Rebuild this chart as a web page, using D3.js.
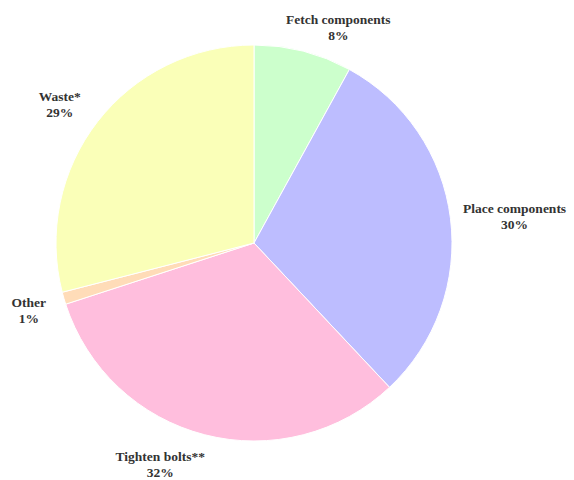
<!DOCTYPE html>
<html>
<head>
<meta charset="utf-8">
<script src="https://cdn.jsdelivr.net/npm/d3@7"></script>
<style>
  html, body { margin: 0; padding: 0; background: #fff; }
  svg { display: block; }
  text.label { font-family: "Liberation Serif", "Times New Roman", "DejaVu Serif", serif; font-weight: bold; }
</style>
</head>
<body>
<svg id="chart" width="574" height="480"></svg>
<script>
const categories = ['Fetch components', 'Place components', 'Tighten bolts**', 'Other', 'Waste*'];
const shares = [8, 30, 32, 1, 29];
const colors = ['#ccffcc', '#bdbdff', '#ffbedd', '#ffdcb8', '#faffb8'];
// label placement: angle shift (deg) from slice middle and distance from centre
const labelShift = [6.9, 1.2, 8.6, -0.4, -2.2];
const labelDist = [232, 262, 240, 235, 239];

const width = 574, height = 480;
const cx = 254, cy = 243, radius = 198;

const svg = d3.select('#chart');
const g = svg.append('g').attr('transform', `translate(${cx},${cy})`);

const pie = d3.pie().sort(null).value(d => d.value);
const arcs = pie(categories.map((c, i) => ({ name: c, value: shares[i], i })));
const arc = d3.arc().innerRadius(0).outerRadius(radius);

g.selectAll('path.slice')
    .data(arcs)
    .enter()
    .append('path')
    .classed('slice', true)
    .attr('d', arc)
    .attr('fill', d => colors[d.data.i])
    .attr('stroke', '#fff')
    .attr('stroke-width', 1);

const labels = g.selectAll('text.label')
    .data(arcs)
    .enter()
    .append('text')
    .classed('label', true)
    .attr('text-anchor', 'middle')
    .attr('font-size', 13.5)
    .attr('fill', '#333')
    .attr('transform', d => {
        const a = (d.startAngle + d.endAngle) / 2 + labelShift[d.data.i] * Math.PI / 180;
        const r = labelDist[d.data.i];
        return `translate(${r * Math.sin(a)},${-r * Math.cos(a)})`;
    });

labels.append('tspan')
    .attr('x', 0)
    .attr('y', -3)
    .text(d => d.data.name);
labels.append('tspan')
    .attr('x', 0)
    .attr('y', 13)
    .text(d => d3.format('.0f')(d.data.value) + '%');
</script>
</body>
</html>
